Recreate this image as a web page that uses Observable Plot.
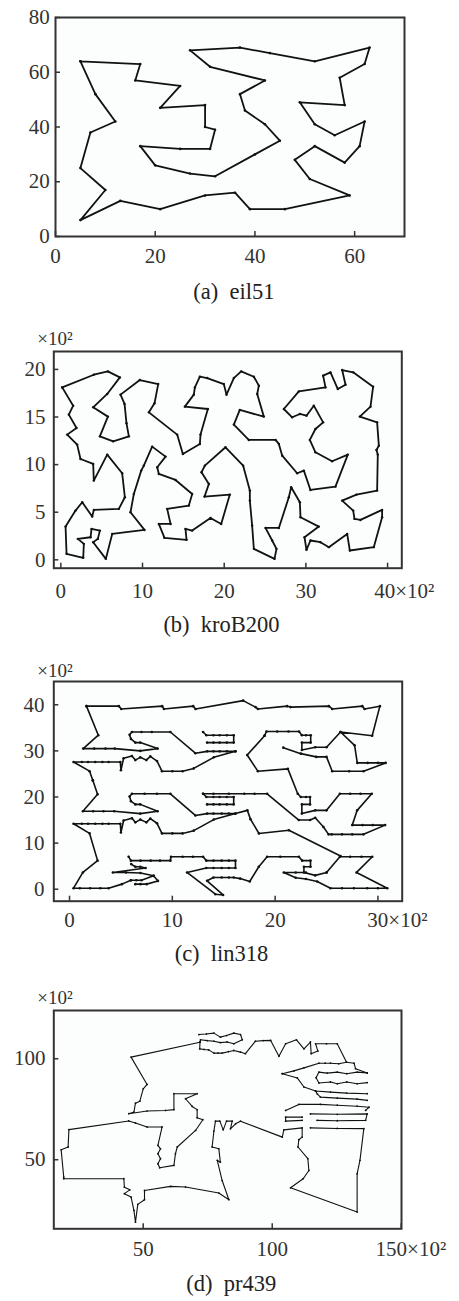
<!DOCTYPE html>
<html><head><meta charset="utf-8">
<script src="https://cdn.jsdelivr.net/npm/d3@7"></script>
<script src="https://cdn.jsdelivr.net/npm/@observablehq/plot@0.6"></script>
<style>
body{margin:0;background:#fff;}
#root{position:relative;width:459px;height:1301px;overflow:hidden;background:#fff;}
#root svg{position:absolute;left:0;}
#root svg, #root svg text, #root svg tspan{font-family:"Liberation Serif","Times New Roman",serif !important;}
</style></head><body><div id="root"></div>
<script>
// ---------- (a) eil51 ----------
const eilX = [37,49,52,20,40,21,17,31,52,51,42,31,5,12,36,52,27,17,13,57,62,42,16,8,7,27,30,43,58,58,37,38,46,61,62,63,32,45,59,5,10,21,5,30,39,32,25,25,48,56,30];
const eilY = [52,49,64,26,30,47,63,62,33,21,41,32,25,42,16,41,23,33,13,58,42,57,57,52,38,68,48,67,48,27,69,46,10,33,63,69,22,35,15,6,17,10,64,15,10,39,32,55,28,37,40];
const eilTour = [43,7,23,48,6,27,51,46,12,47,18,4,17,37,5,38,11,32,1,22,8,26,31,28,3,36,35,20,29,2,16,50,21,34,30,9,49,10,39,33,45,15,44,42,19,40,41,13,25,14,24];
const eilXTicks = [0,20,40,60];
const eilYTicks = [0,20,40,60,80];

// ---------- (b) kroB200 (x10^2) ----------
const kroX = [0.17,1.51,0.98,1.92,0.78,2.00,2.41,3.96,4.04,5.68,7.51,7.84,7.10,4.04,3.84,2.62,1.80,0.58,0.70,2.74,2.82,2.08,3.64,3.76,4.78,4.53,3.96,5.51,6.29,10.24,8.53,8.94,9.84,10.16,11.18,12.82,11.80,12.00,14.04,16.08,15.67,13.02,13.43,12.00,12.69,15.39,15.26,16.08,18.32,19.63,20.69,17.59,18.12,17.22,17.63,20.16,22.32,23.14,23.14,23.42,23.63,26.16,26.40,25.87,25.06,26.69,27.91,28.20,29.26,29.34,31.58,29.83,30.07,30.56,31.79,32.81,35.05,35.38,38.31,39.33,39.33,36.68,35.95,35.79,34.44,36.19,38.72,38.80,38.64,38.93,38.72,36.60,37.91,38.23,35.79,34.44,34.85,33.91,33.01,32.11,32.40,29.14,27.30,28.32,29.26,30.07,30.97,32.11,31.17,30.48,31.17,33.21,35.13,33.62,30.56,29.75,28.93,27.10,26.69,26.28,23.01,21.18,21.91,24.85,24.04,24.24,23.63,22.08,21.18,20.28,19.95,17.92,17.02,16.41,16.28,15.18,18.00,17.10,17.02,14.94,14.24,10.78,11.47,11.92,9.67,7.31,7.80,8.04,8.33,6.41,4.78,5.76,3.96,5.68,7.23,5.76,4.04];
const kroY = [18.11,16.19,15.25,13.85,13.15,12.10,10.59,10.07,8.32,11.05,9.09,6.57,5.35,5.24,4.54,6.05,5.17,3.49,0.63,0.21,1.68,2.20,2.37,3.25,3.07,2.20,1.85,0.10,2.72,3.14,5.00,6.92,9.37,9.89,11.89,10.84,9.72,9.02,8.39,6.92,5.70,5.35,3.77,3.77,2.30,2.10,3.25,3.07,4.40,3.77,6.85,6.64,7.97,9.20,9.89,11.82,9.89,7.27,6.22,3.60,1.15,0.10,1.15,2.03,3.35,3.35,6.57,7.62,6.05,4.47,3.49,2.37,1.05,2.03,1.85,1.33,2.72,0.98,1.33,4.47,5.24,4.19,4.30,5.17,6.22,6.85,7.27,11.05,11.54,11.99,14.44,15.04,16.09,18.18,19.69,19.93,18.39,17.94,19.69,19.34,18.11,17.69,15.84,14.97,15.32,15.14,16.19,14.44,13.74,12.59,11.29,10.35,11.05,7.69,7.34,9.37,9.09,10.94,12.17,12.59,12.59,14.20,15.74,15.04,17.42,18.29,19.23,19.79,19.09,17.35,18.46,19.09,19.23,18.11,17.35,16.09,15.84,13.15,12.17,11.12,13.15,15.49,16.44,18.46,18.88,17.35,16.37,14.34,12.97,12.45,12.97,15.04,16.02,17.42,19.16,19.79,19.44];
const kroXTicks = [0,10,20,30,40];
const kroYTicks = [0,5,10,15,20];

// ---------- (c) lin318 (x10^2), tour drawn as path pieces ----------
const linT0 = [[1.65,39.7],[4.80,39.7],[5.03,39.1],[9.01,39.7],[9.18,39.1],[12.03,39.7],[12.26,39.1],[16.89,40.9],[18.09,39.5],[18.32,39.1],[21.17,39.7],[21.5,39.5],[25.23,39.7],[25.55,39.1],[28.48,39.7],[28.70,39.1],[30.19,39.7],[29.44,33.3],[26.36,34.1],[27.73,31.2],[27.99,27.4],[29.0,27.4],[30.0,27.4],[30.75,27.4],[28.6,25.6],[27.2,25.6],[25.55,25.6],[25.0,28.7],[24.0,28.7],[22.5,29.4],[20.8,30.7]];
const linTL = [[1.65,39.7],[2.8,33.4],[1.33,30.5],[2.4,30.5],[3.5,30.5],[4.4,30.5],[6.88,30.0],[8.57,30.5],[6.88,31.8],[6.4,31.8],[5.97,32.6],[5.84,33.5],[6.07,34.1],[7.0,34.1],[8.0,34.1],[9.81,34.1],[12.24,29.5],[13.38,29.9],[14.0,29.9],[14.6,29.9],[15.3,29.9],[16.14,29.9]];
const linTC1 = [[12.99,34.1],[13.31,33.4],[14.0,33.4],[14.6,33.4],[15.3,33.4],[15.97,33.4],[15.97,31.8],[15.3,31.8],[14.6,31.8],[14.0,31.8],[13.38,31.8]];
const linTC2 = [[16.14,29.9],[14.03,28.6],[12.08,26.2],[11.0,25.6],[10.0,25.6],[8.99,25.6],[8.51,27.8],[7.86,28.8],[7.47,28.0],[6.88,28.6],[6.40,28.0],[6.07,28.9],[5.26,28.4],[5.0,25.8],[4.94,27.6],[3.80,27.6],[3.2,27.6],[2.5,27.6],[1.8,27.6],[1.2,27.6],[0.39,27.6],[1.95,25.6],[2.27,23.6]];
const linTR = [[18.97,33.3],[17.28,29.1],[18.32,25.6],[21.24,26.1],[22.2,20.7],[22.5,20.0],[23.0,20.0],[23.4,20.0],[23.4,18.4],[22.6,18.4],[22.6,16.4],[23.9,17.1],[25.0,17.1],[26.3,20.7],[27.3,20.7],[28.3,20.7],[29.4,20.7],[27.98,17.1],[27.5,13.9],[28.5,13.9],[29.5,13.9],[30.7,13.9],[28.6,11.9],[27.5,11.9],[26.5,11.9],[25.5,11.9],[25.2,11.9],[24.7,13.5],[23.9,15.5],[23.4,15.0],[22.3,15.0],[19.22,20.7],[18.0,20.7],[17.0,20.7],[15.5,20.7],[14.0,20.7],[12.99,20.7]];
const linTR2 = [[18.97,33.3],[19.16,34.2],[20.2,34.2],[21.3,34.2],[22.32,34.2],[22.6,33.4],[23.0,33.4],[23.46,33.4],[23.46,31.8],[22.6,31.8],[22.6,30.2],[23.9,30.8],[25.0,30.8],[26.36,34.1]];
const linML = [[2.27,23.6],[2.73,20.6],[1.30,16.9],[2.3,16.9],[3.3,16.9],[4.35,16.9],[6.88,16.4],[8.57,16.9],[6.88,18.4],[6.4,18.4],[5.97,19.1],[5.84,20.1],[6.07,20.7],[7.3,20.7],[8.5,20.7],[9.81,20.7],[12.24,16.0],[13.38,16.4],[14.0,16.4],[14.8,16.4],[15.5,16.4],[16.14,16.4],[17.3,17.1],[17.6,15.2],[18.42,12.1],[21.34,12.8],[26.36,7.2]];
const linMC1 = [[12.99,20.7],[13.31,20.0],[14.0,20.0],[14.6,20.0],[15.3,20.0],[15.97,20.0],[15.97,18.4],[15.3,18.4],[14.6,18.4],[14.0,18.4],[13.38,18.4]];
const linMC2 = [[16.14,16.4],[14.03,15.1],[12.08,12.7],[11.0,12.1],[10.0,12.1],[8.99,12.1],[8.51,14.3],[7.86,15.3],[7.47,14.5],[6.88,15.1],[6.40,14.5],[6.07,15.4],[5.26,14.9],[5.0,12.3],[4.94,14.2],[3.80,14.2],[3.2,14.2],[2.5,14.2],[1.8,14.2],[1.2,14.2],[0.39,14.2],[1.95,12.1],[2.73,6.2],[1.30,3.64],[0.39,0.22],[1.0,0.22],[2.0,0.22],[3.0,0.22],[3.8,0.22],[5.1,1.1],[5.97,1.96]];
const linB1 = [[5.97,1.96],[6.5,1.96],[7.0,1.96],[8.18,2.9],[8.6,1.8],[7.5,1.1],[6.9,1.1],[6.4,1.1]];
const linB2 = [[5.75,7.05],[5.97,6.2],[6.9,6.2],[7.9,6.2],[8.8,6.2],[9.81,6.2],[9.87,7.05],[11.0,7.05],[12.0,7.05],[12.99,7.05],[13.31,6.2],[14.0,6.2],[14.8,6.2],[15.5,6.2],[16.14,6.2],[16.14,4.6],[15.5,4.6],[14.8,4.6],[14.0,4.6],[13.3,4.6],[11.43,3.64],[14.19,-1.09],[14.94,-1.24],[13.38,1.82],[14.0,2.55],[14.8,2.55],[15.5,2.55],[15.97,2.55],[16.6,2.3],[17.53,1.67],[18.41,4.87],[19.22,7.05],[20.5,7.05],[22.31,7.05],[22.63,6.2],[23.44,6.2],[23.44,4.87],[22.8,4.87],[22.8,3.64],[23.9,3.0],[25.0,3.64]];
const linB3 = [[25.0,3.64],[26.3,7.05],[27.3,7.05],[28.4,7.05],[29.45,7.05],[27.92,3.64],[30.91,0.22],[30.0,0.22],[28.96,0.22],[27.66,0.22],[26.5,0.22],[25.39,0.22],[24.09,1.67],[23.0,2.2],[22.0,2.5],[20.84,3.64],[22.0,3.64],[23.0,3.64]];
const linB4 = [[6.0,5.45],[6.4,4.87],[6.88,4.87],[7.4,4.6],[4.22,3.64],[5.5,3.64],[6.9,3.5],[8.18,2.9]];
const linPieces = [linT0,linTL,linTC1,linTC2,linTR,linTR2,linML,linMC1,linMC2,linB1,linB2,linB3,linB4];
const linXTicks = [0,10,20,30];
const linYTicks = [0,10,20,30,40];

// ---------- (d) pr439 (x10^2), tour drawn as path pieces ----------
const prMain = [[72.0,108.2],[45.3,100.8],[51.5,87.3],[50.0,85.1],[48.7,79.0],[47.0,78.0],[46.4,73.6],[44.4,72.8],[51.5,74.1],[58.6,74.4],[61.9,74.8],[61.9,82.7],[70.9,82.7],[66.4,80.2],[69.0,76.4],[70.9,74.8],[70.9,70.8],[73.1,69.8],[70.3,64.5],[63.2,56.3],[62.5,53.0],[61.9,47.2],[56.4,46.0],[55.7,48.0],[56.7,50.5],[55.7,53.0],[56.7,55.4],[55.7,57.1],[57.3,66.2],[51.5,66.2],[47.0,68.2],[44.4,69.2],[21.2,64.9],[20.9,56.3],[18.2,54.9],[19.2,41.4],[19.2,40.6],[42.5,40.6],[42.7,36.4],[44.8,35.1],[42.7,33.2],[45.3,31.5],[46.4,24.9],[47.0,19.1],[47.9,27.9],[50.5,30.2],[50.5,34.8],[60.6,36.8],[66.4,36.5],[79.3,33.5],[83.2,30.2],[80.6,39.7],[78.7,49.7],[79.9,48.8],[79.3,55.4],[76.7,56.3],[77.4,64.2],[78.0,69.1],[79.7,69.1],[81.0,64.8],[82.3,69.1],[84.5,69.1],[83.8,65.3],[85.8,67.8],[87.7,69.1],[103.9,61.2],[104.5,64.8],[111.6,65.8],[111.6,61.2],[110.3,59.9],[110.0,56.3],[113.8,50.5],[114.2,44.7],[112.0,40.6],[107.1,36.1],[132.9,24.1],[132.9,43.0],[134.0,49.7],[135.5,65.4],[125.2,65.5],[114.8,65.8]];
const prTop1 = [[72.0,108.2],[72.2,109.4],[74.8,109.0],[77.4,108.7],[79.9,108.0],[82.5,108.3],[85.1,107.4],[88.4,109.4],[87.7,112.0],[85.1,112.7],[82.3,111.5],[79.9,110.7],[77.4,112.7],[74.5,112.3],[71.6,112.0]];
const prTop2 = [[72.0,108.2],[71.9,104.9],[73.6,104.6],[75.4,104.4],[77.4,102.8],[79.0,102.8],[80.6,102.8],[83.0,103.5],[85.1,104.1],[87.7,103.3],[89.6,102.5],[93.5,108.7],[96.5,109.0],[99.4,109.1],[102.6,101.2],[105.2,107.4],[109.4,109.4],[112.3,104.9],[114.8,108.3],[115.1,102.5],[117.7,103.8],[116.8,107.4],[121.0,107.4],[125.2,107.4],[128.8,98.3],[131.7,97.8],[132.3,95.1],[136.8,93.0]];
const prR1 = [[103.9,92.6],[108.4,94.0],[112.3,95.5],[118.1,97.8],[120.5,97.8],[122.6,97.8],[125.8,97.5],[128.8,98.3]];
const prR2 = [[103.9,92.6],[109.7,90.5],[112.3,86.0],[116.8,84.0]];
const prR34 = [[136.8,93.0],[132.9,93.4],[128.9,92.6],[125.2,93.4],[121.3,92.9],[118.1,93.4],[117.0,90.6],[118.1,88.0],[122.6,88.5],[125.2,87.6],[128.9,88.5],[132.9,87.6],[136.8,88.2]];
const prR56 = [[136.8,82.7],[128.9,83.0],[122.6,83.5],[116.8,84.0],[117.5,82.5],[118.7,81.0],[125.2,80.5],[132.9,80.0],[136.8,79.4]];
const prR7 = [[105.2,74.4],[110.3,77.4],[118.7,77.4],[125.2,77.0],[132.9,76.5],[137.5,76.0],[136.2,74.4]];
const prR8 = [[111.6,71.1],[105.2,71.1],[105.2,69.1],[111.6,69.5]];
const prR8b = [[114.8,72.7],[125.2,72.5],[136.8,72.7],[136.2,69.5],[125.2,69.3],[117.4,69.5]];
const prPieces = [prMain,prTop1,prTop2,prR1,prR2,prR34,prR56,prR7,prR8,prR8b];
const prXTicks = [50,100,150];
const prYTicks = [50,100];

const captions = ["(a)\u00a0\u00a0eil51","(b)\u00a0\u00a0kroB200","(c)\u00a0\u00a0lin318","(d)\u00a0\u00a0pr439"];
const unitText = "\u00d710\u00b2";

// ---------- build ----------
const FONT = '"Liberation Serif","Times New Roman",serif';
const eilData = eilTour.concat([eilTour[0]]).map(i => ({x: eilX[i-1], y: eilY[i-1], z: 0}));
const kroData = kroX.map((x,i) => ({x, y: kroY[i], z: 0})); kroData.push({...kroData[0]});
const linData = linPieces.flatMap((p,k) => p.map(([x,y]) => ({x, y, z: k})));
const prData = prPieces.flatMap((p,k) => p.map(([x,y]) => ({x, y, z: k})));

function makePanel(c) {
  const marks = [
    Plot.frame({fill: "#fcfdfd", stroke: "none"}),
    Plot.line(c.data, {x: "x", y: "y", z: "z", stroke: "#111", strokeWidth: c.lw, strokeLinejoin: "round"}),
    Plot.dot(c.data, {x: "x", y: "y", r: c.r, fill: "#111", stroke: "none"}),
    Plot.axisX(c.xt, {anchor: "bottom", tickSize: -5, tickPadding: c.xtp, strokeWidth: 1.5, label: null,
      tickFormat: d => d === c.xLast ? "" : String(d)}),
    Plot.axisY(c.yt, {anchor: "left", tickSize: -5, tickPadding: c.ytp, strokeWidth: 1.5, label: null,
      tickFormat: d => String(d)}),
    Plot.frame({stroke: "#333", strokeWidth: 2}),
    Plot.text([c.caption], {frameAnchor: "bottom", text: d => d, dx: c.capDx, dy: c.capDy,
      textAnchor: "middle", lineAnchor: "bottom", fontSize: 22.5, fill: "#222"})
  ];
  if (c.xLast != null) {
    marks.push(Plot.text([c.xLast], {x: d => d, frameAnchor: "bottom", text: d => d + unitText,
      dx: c.lastDx, dy: c.lastDy, textAnchor: "start", lineAnchor: "bottom"}));
    marks.push(Plot.text([unitText], {frameAnchor: "top-left", text: d => d, dx: -16.6, dy: c.unitDy,
      textAnchor: "start", lineAnchor: "bottom", fontSize: 19}));
  }
  const svg = Plot.plot({
    width: 459, height: c.h,
    marginTop: c.mt, marginBottom: c.mb, marginLeft: c.ml, marginRight: c.mr,
    x: {domain: c.xd, label: null}, y: {domain: c.yd, label: null},
    style: {fontFamily: FONT, fontSize: "21px", color: "#333", background: "transparent", overflow: "visible"},
    marks
  });
  svg.style.top = c.top + "px";
  document.getElementById("root").appendChild(svg);
}

makePanel({top: 0, h: 310, mt: 17, mb: 74, ml: 55, mr: 55, xd: [0,70], yd: [0,80],
  data: eilData, lw: 1.8, r: 1.3, xt: eilXTicks, yt: eilYTicks, xLast: null, xtp: 16.1, ytp: 10.7,
  caption: captions[0], capDx: 3.9, capDy: 62.5});
makePanel({top: 320, h: 320, mt: 31, mb: 72.3, ml: 53.3, mr: 57.7, xd: [-0.86,41.74], yd: [-0.88,21.88],
  data: kroData, lw: 1.8, r: 1.2, xt: kroXTicks, yt: kroYTicks, xLast: 40, xtp: 19.4, ytp: 13.3,
  lastDx: -13.4, lastDy: 29.3, unitDy: -7,
  caption: captions[1], capDx: -6.3, capDy: 63.3});
makePanel({top: 645, h: 325, mt: 36, mb: 69.3, ml: 53.3, mr: 57.3, xd: [-1.53,32.36], yd: [-2.6,45.05],
  data: linData, lw: 1.6, r: 1.3, xt: linXTicks, yt: linYTicks, xLast: 30, xtp: 15.9, ytp: 14.3,
  lastDx: -10.6, lastDy: 25.8, unitDy: -5,
  caption: captions[2], capDx: -6.5, capDy: 59.3});
makePanel({top: 975, h: 326, mt: 35, mb: 72.7, ml: 53.3, mr: 58, xd: [15.35,150.1], yd: [15.8,123.9],
  data: prData, lw: 1.1, r: 0.9, xt: prXTicks, yt: prYTicks, xLast: 150, xtp: 16.8, ytp: 13.3,
  lastDx: -25.7, lastDy: 26.7, unitDy: -7,
  caption: captions[3], capDx: 3.5, capDy: 61.7});
</script>
</body></html>
